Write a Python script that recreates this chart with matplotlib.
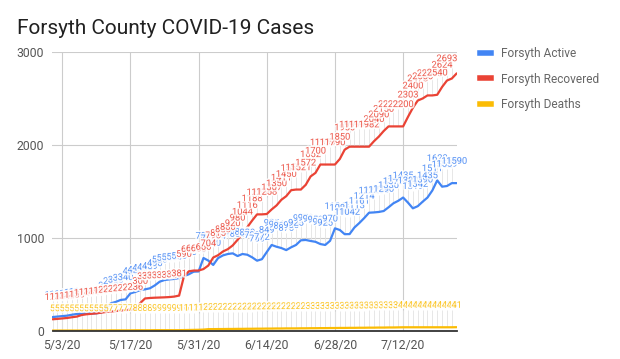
import matplotlib
matplotlib.use('Agg')
import matplotlib.pyplot as plt
import matplotlib.patheffects as pe
from matplotlib.lines import Line2D
import pandas as pd

plt.rcParams['font.family'] = ['Roboto', 'DejaVu Sans']

dates = pd.date_range('2020-05-01', '2020-07-23', freq='D')

active = [150, 155, 160, 165, 175, 183, 185, 185, 188, 190,
          200, 250, 298, 313, 334, 340, 405, 420, 440, 448,
          459, 490, 530, 548, 555, 560, 570, 590, 610, 638,
          640, 785, 757, 710, 784, 813, 828, 835, 806, 828,
          820, 792, 756, 772, 849, 925, 906, 892, 870, 900,
          925, 975, 979, 968, 959, 935, 925, 970, 1104, 1086,
          1041, 1042, 1113, 1161, 1214, 1272, 1275, 1280, 1290, 1330,
          1373, 1400, 1435, 1380, 1319, 1342, 1390, 1435, 1511, 1620,
          1552, 1559, 1590, 1590]

recovered = [126, 130, 135, 140, 148, 155, 172, 180, 185, 190,
             197, 205, 210, 215, 220, 225, 230, 236, 300, 350,
             355, 358, 360, 362, 365, 370, 381, 590, 642, 650,
             650, 666, 704, 790, 815, 855, 880, 920, 980, 1044,
             1116, 1188, 1254, 1254, 1258, 1307, 1350, 1411, 1450, 1514,
             1521, 1521, 1572, 1662, 1700, 1790, 1790, 1790, 1790, 1850,
             1950, 1982, 1982, 1982, 1982, 1982, 2040, 2090, 2150, 2200,
             2200, 2200, 2200, 2303, 2400, 2478, 2500, 2533, 2533, 2540,
             2624, 2693, 2715, 2770]

deaths = [5, 5, 5, 5, 5, 5, 5, 5, 5, 5,
          5, 5, 7, 7, 7, 7, 7, 8, 8, 8,
          8, 9, 9, 9, 9, 9, 9, 10, 11, 12,
          13, 15, 20, 20, 21, 21, 22, 22, 23, 23,
          24, 24, 25, 25, 26, 26, 27, 27, 28, 28,
          28, 29, 29, 30, 30, 31, 31, 32, 32, 33,
          33, 34, 34, 35, 35, 36, 36, 37, 37, 38,
          38, 39, 40, 40, 40, 40, 40, 40, 40, 40,
          40, 40, 40, 41]

series_names = ['Forsyth Active', 'Forsyth Recovered', 'Forsyth Deaths']
colors = ['#4285F4', '#EA4335', '#FBBC04']
tick_dates = pd.to_datetime(['2020-05-03', '2020-05-17', '2020-05-31',
                             '2020-06-14', '2020-06-28', '2020-07-12'])
y_ticks = [0, 1000, 2000, 3000]

W, H = 620, 359
fig = plt.figure(figsize=(W / 100, H / 100), dpi=100)
ax = fig.add_axes([52.5 / W, 28 / H, (456.7 - 52.5) / W, (331 - 52) / H])

label_off = 235
leader_top = 185
label_limit = 2940  # labels that would leave the plot area are not drawn
halo = [pe.withStroke(linewidth=2.2, foreground='white')]

all_series = [active, recovered, deaths]
for vals in all_series:
    ax.vlines(dates, vals, [v + leader_top for v in vals], color='#e3e3e3', lw=0.6, zorder=1)

for vals, c, name in zip(all_series, colors, series_names):
    ax.plot(dates, vals, color=c, lw=1.6, zorder=2, label=name, solid_capstyle='round')

for vals, c in zip(all_series, colors):
    for d, v in zip(dates, vals):
        if v + label_off > label_limit:
            continue
        ax.text(d, v + label_off, str(v), color=c, fontsize=6.7, ha='center', va='center',
                zorder=3, path_effects=halo, alpha=0.85)

ax.set_xlim(dates[0], dates[-1])
ax.set_ylim(0, 3000)
ax.set_yticks(y_ticks)
ax.set_xticks(tick_dates)
ax.set_xticklabels([f'{d.month}/{d.day}/{d.year % 100}' for d in tick_dates])
ax.tick_params(axis='both', length=0, labelsize=8.8, colors='#555555')
ax.tick_params(axis='y', pad=6)
ax.tick_params(axis='x', pad=6)
ax.grid(True, color='#cccccc', lw=0.8, zorder=0)
ax.set_axisbelow(True)
for s in ['top', 'right', 'left']:
    ax.spines[s].set_visible(False)
ax.spines['bottom'].set_color('#333333')
ax.spines['bottom'].set_linewidth(1.3)
ax.spines['bottom'].set_zorder(4)

fig.text(17 / W, 1 - 33.5 / H, 'Forsyth County COVID-19 Cases', fontsize=15,
         color='#212121', ha='left', va='baseline')

handles = [Line2D([], [], color=c, lw=4) for c in colors]
fig.legend(handles, series_names, loc='upper left', bbox_to_anchor=(480 / W, 1 - 47 / H),
           frameon=False, fontsize=8.6, labelcolor='#666666', handlelength=0.9,
           handletextpad=0.85, labelspacing=1.05, borderpad=0, borderaxespad=0)

fig.savefig('out.png', dpi=100)
